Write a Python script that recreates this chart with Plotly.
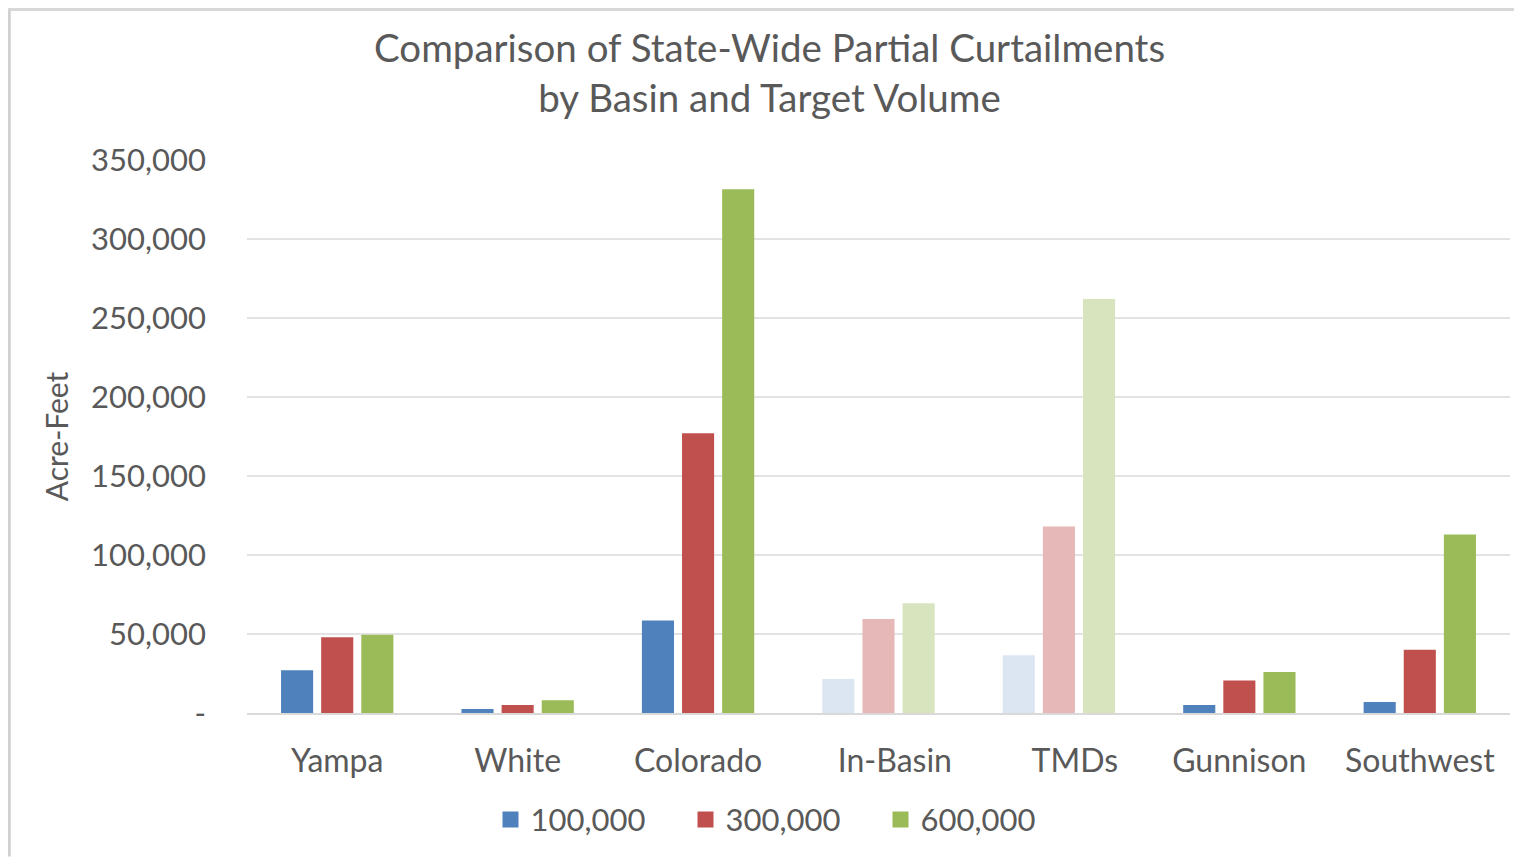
import plotly.graph_objects as go

categories = ["Yampa", "White", "Colorado", "In-Basin", "TMDs", "Gunnison", "Southwest"]
series_names = ["100,000", "300,000", "600,000"]
vals_100k = [27000, 2500, 58500, 21500, 36500, 5000, 7000]
vals_300k = [48000, 5000, 177000, 59500, 118000, 20500, 40000]
vals_600k = [49500, 8000, 331500, 69500, 262000, 26000, 113000]
y_tickvals = [0, 50000, 100000, 150000, 200000, 250000, 300000, 350000]
y_ticktext = ["-", "50,000", "100,000", "150,000", "200,000", "250,000", "300,000", "350,000"]
# category labels (In-Basin and TMDs sit slightly right of centre in the reference)
x_ticktext = ["Yampa", "White", "Colorado", "\u00a0\u00a0\u00a0\u00a0In-Basin",
              "\u00a0\u00a0\u00a0\u00a0TMDs", "Gunnison", "Southwest"]

base_colors = ["#4F81BD", "#C0504D", "#9BBB59"]
light_colors = ["#DCE6F2", "#E6B9B8", "#D7E4BD"]
light_cats = {"In-Basin", "TMDs"}

FONT = "Lato, 'Open Sans', sans-serif"
TXT = "#595959"

W, H = 1514, 851
L, R, T, B = 239, 12, 152, 144
PW, PH = W - L - R, H - T - B

fig = go.Figure()
for name, vals, bc, lc in zip(series_names, [vals_100k, vals_300k, vals_600k], base_colors, light_colors):
    colors = [lc if c in light_cats else bc for c in categories]
    fig.add_trace(go.Bar(
        x=categories, y=vals, name=name, showlegend=False,
        marker=dict(color=colors, line=dict(width=0)),
    ))
# legend entries with larger square swatches
for name, bc in zip(series_names, base_colors):
    fig.add_trace(go.Scatter(
        x=[None], y=[None], mode="markers", name=name,
        marker=dict(symbol="square", size=20, color=bc, line=dict(width=0)),
        hoverinfo="skip",
    ))

fig.update_layout(
    width=W, height=H,
    margin=dict(l=L, r=R, t=T, b=B),
    paper_bgcolor="white", plot_bgcolor="white",
    barmode="group", bargap=0.333, bargroupgap=0.2,
    title=dict(
        text="Comparison of State-Wide Partial Curtailments<br>by Basin and Target Volume",
        x=0.503, xanchor="center", y=0.937, yanchor="top",
        font=dict(family=FONT, size=38.5, color=TXT),
    ),
    font=dict(family=FONT, color=TXT),
    showlegend=True,
    legend=dict(
        orientation="h", x=(783 - 247) / PW, xanchor="center", y=-0.193, yanchor="middle",
        font=dict(family=FONT, size=31, color=TXT),
        itemsizing="trace", traceorder="normal",
        entrywidth=150, entrywidthmode="pixels",
    ),
    xaxis=dict(
        showgrid=False, showline=True, linecolor="#D9D9D9", linewidth=1.5,
        ticks="", tickfont=dict(family=FONT, size=32, color=TXT),
        tickmode="array", tickvals=categories, ticktext=x_ticktext,
        ticklabelstandoff=19,
    ),
    yaxis=dict(
        range=[0, 350000], tickvals=y_tickvals, ticktext=y_ticktext,
        showgrid=True, gridcolor="#E3E3E3", gridwidth=1.5,
        zeroline=False, showline=False, ticks="",
        tickfont=dict(family=FONT, size=31, color=TXT),
        ticklabelstandoff=40,
        title=dict(text="Acre-Feet", font=dict(family=FONT, size=30, color=TXT), standoff=13),
    ),
)

# outer chart border (left and top edges visible in reference)
fig.add_shape(type="line", xref="paper", yref="paper",
              x0=-L / PW + 0.001, x1=-L / PW + 0.001, y0=-B / PH, y1=1 + (T - 1) / PH,
              line=dict(color="#D0D0D0", width=3))
fig.add_shape(type="line", xref="paper", yref="paper",
              x0=-L / PW, x1=1 + R / PW, y0=1 + (T - 1) / PH, y1=1 + (T - 1) / PH,
              line=dict(color="#D8D8D8", width=3))

fig.write_html("out.html")
